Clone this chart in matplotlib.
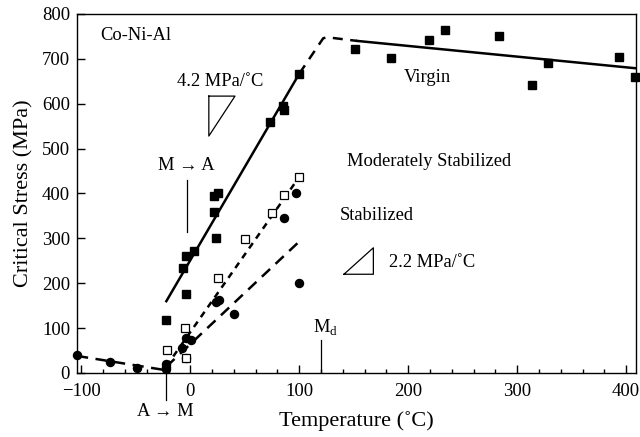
import matplotlib
matplotlib.use("Agg")
import matplotlib.pyplot as plt
from matplotlib.ticker import MultipleLocator

plt.rcParams["font.family"] = ["Liberation Serif", "DejaVu Serif"]
plt.rcParams["mathtext.fontset"] = "custom"
plt.rcParams["mathtext.rm"] = "Liberation Serif"

# virgin (filled squares)
virgin_T = [-22, -7, -4, -4, 3, 22, 25, 22, 24, 73, 85, 86, 100,
            151, 184, 219, 234, 283, 314, 328, 393, 408]
virgin_S = [117, 235, 261, 176, 272, 395, 400, 359, 301, 560, 595, 586, 667,
            723, 701, 743, 765, 752, 641, 690, 705, 660]

# moderately stabilized (open squares)
moder_T = [-21, -5, -4, 25, 50, 75, 86, 100]
moder_S = [51, 100, 33, 211, 298, 357, 396, 437]

# stabilized (filled circles)
stab_T = [-22, -22, -8, -4, 1, 24, 26, 40, 86, 97, 100, -4]
stab_S = [13, 21, 56, 77, 73, 159, 163, 131, 345, 402, 201, 33]

# below A->M (filled circles)
low_T = [-104, -74, -49, -22]
low_S = [40, 24, 12, 8]

# fit lines
virgin_fit1_T, virgin_fit1_S = [-22, 100], [160, 667]
virgin_gap_T, virgin_gap_S = [100, 122, 126, 153], [667, 746, 748, 740]
virgin_fit2_T, virgin_fit2_S = [153, 409], [740, 679]
moder_fit_T, moder_fit_S = [-22, 100], [15, 437]
stab_fit_T, stab_fit_S = [-22, 100], [14, 293]
low_fit_T, low_fit_S = [-104, -22], [38, 6]

# slope triangles
tri42_T, tri42_S = [17, 41, 17, 17], [617, 617, 528, 617]
tri22_T, tri22_S = [141, 168, 168, 141], [220, 220, 279, 220]

fig = plt.figure(figsize=(6.4, 4.37), dpi=100)
ax = fig.add_axes([0.1203, 0.1465, 0.9937 - 0.1203, 0.968 - 0.1465])

lw = 1.8
ax.plot(virgin_fit1_T, virgin_fit1_S, color="black", lw=lw)
ax.plot(virgin_fit2_T, virgin_fit2_S, color="black", lw=lw)
ax.plot(virgin_gap_T, virgin_gap_S, color="black", lw=lw, dashes=(4, 3))
ax.plot(moder_fit_T, moder_fit_S, color="black", lw=lw, dashes=(2.6, 2.2))
ax.plot(stab_fit_T, stab_fit_S, color="black", lw=lw, dashes=(4.5, 3))
ax.plot(low_fit_T, low_fit_S, color="black", lw=lw, dashes=(4.5, 3))

ax.plot(tri42_T, tri42_S, color="black", lw=0.9)
ax.plot(tri22_T, tri22_S, color="black", lw=0.9)

ax.plot(stab_T, stab_S, "o", color="black", ms=5.8, ls="none")
ax.plot(low_T, low_S, "o", color="black", ms=5.8, ls="none", clip_on=False)
ax.plot(moder_T, moder_S, "s", mfc="white", mec="black", mew=0.9, ms=6.2, ls="none")
ax.plot(virgin_T, virgin_S, "s", color="black", ms=6.2, ls="none", clip_on=False)

fs = 13.3
# transition markers
ax.plot([-3, -3], [315, 431], color="black", lw=0.9)
ax.text(-3.5, 443, "M \u2192 A", ha="center", va="bottom", fontsize=fs)
ax.plot([-22.5, -22.5], [20, -60], color="black", lw=0.9, clip_on=False)
ax.text(-22.5, -68, "A \u2192 M", ha="center", va="top", fontsize=fs)
ax.plot([120, 120], [0, 73], color="black", lw=0.9)
ax.text(113, 80, r"M$_\mathrm{d}$", ha="left", va="bottom", fontsize=fs)

ax.text(-83, 753, "Co-Ni-Al", ha="left", va="center", fontsize=fs)
ax.text(27, 650, "4.2 MPa/\u02daC", ha="center", va="center", fontsize=fs)
ax.text(218, 658, "Virgin", ha="center", va="center", fontsize=fs)
ax.text(219, 471, "Moderately Stabilized", ha="center", va="center", fontsize=fs)
ax.text(171, 352, "Stabilized", ha="center", va="center", fontsize=fs)
ax.text(182, 247, "2.2 MPa/\u02daC", ha="left", va="center", fontsize=fs)

ax.set_xlim(-104, 409)
ax.set_ylim(0, 800)
ax.xaxis.set_major_locator(MultipleLocator(100))
ax.xaxis.set_minor_locator(MultipleLocator(20))
ax.yaxis.set_major_locator(MultipleLocator(100))
ax.tick_params(which="major", direction="in", length=5.8, width=1.0,
               labelsize=13.5, top=False, right=False, pad=5)
ax.tick_params(axis="x", which="major", pad=7)
ax.tick_params(which="minor", direction="in", length=3, width=1.0,
               top=False, right=False)
for sp in ax.spines.values():
    sp.set_linewidth(1.0)

ax.set_xlabel("Temperature (\u02daC)", fontsize=16, labelpad=8)
ax.set_ylabel("Critical Stress (MPa)", fontsize=16, labelpad=6)

fig.savefig("out.png", dpi=100)
